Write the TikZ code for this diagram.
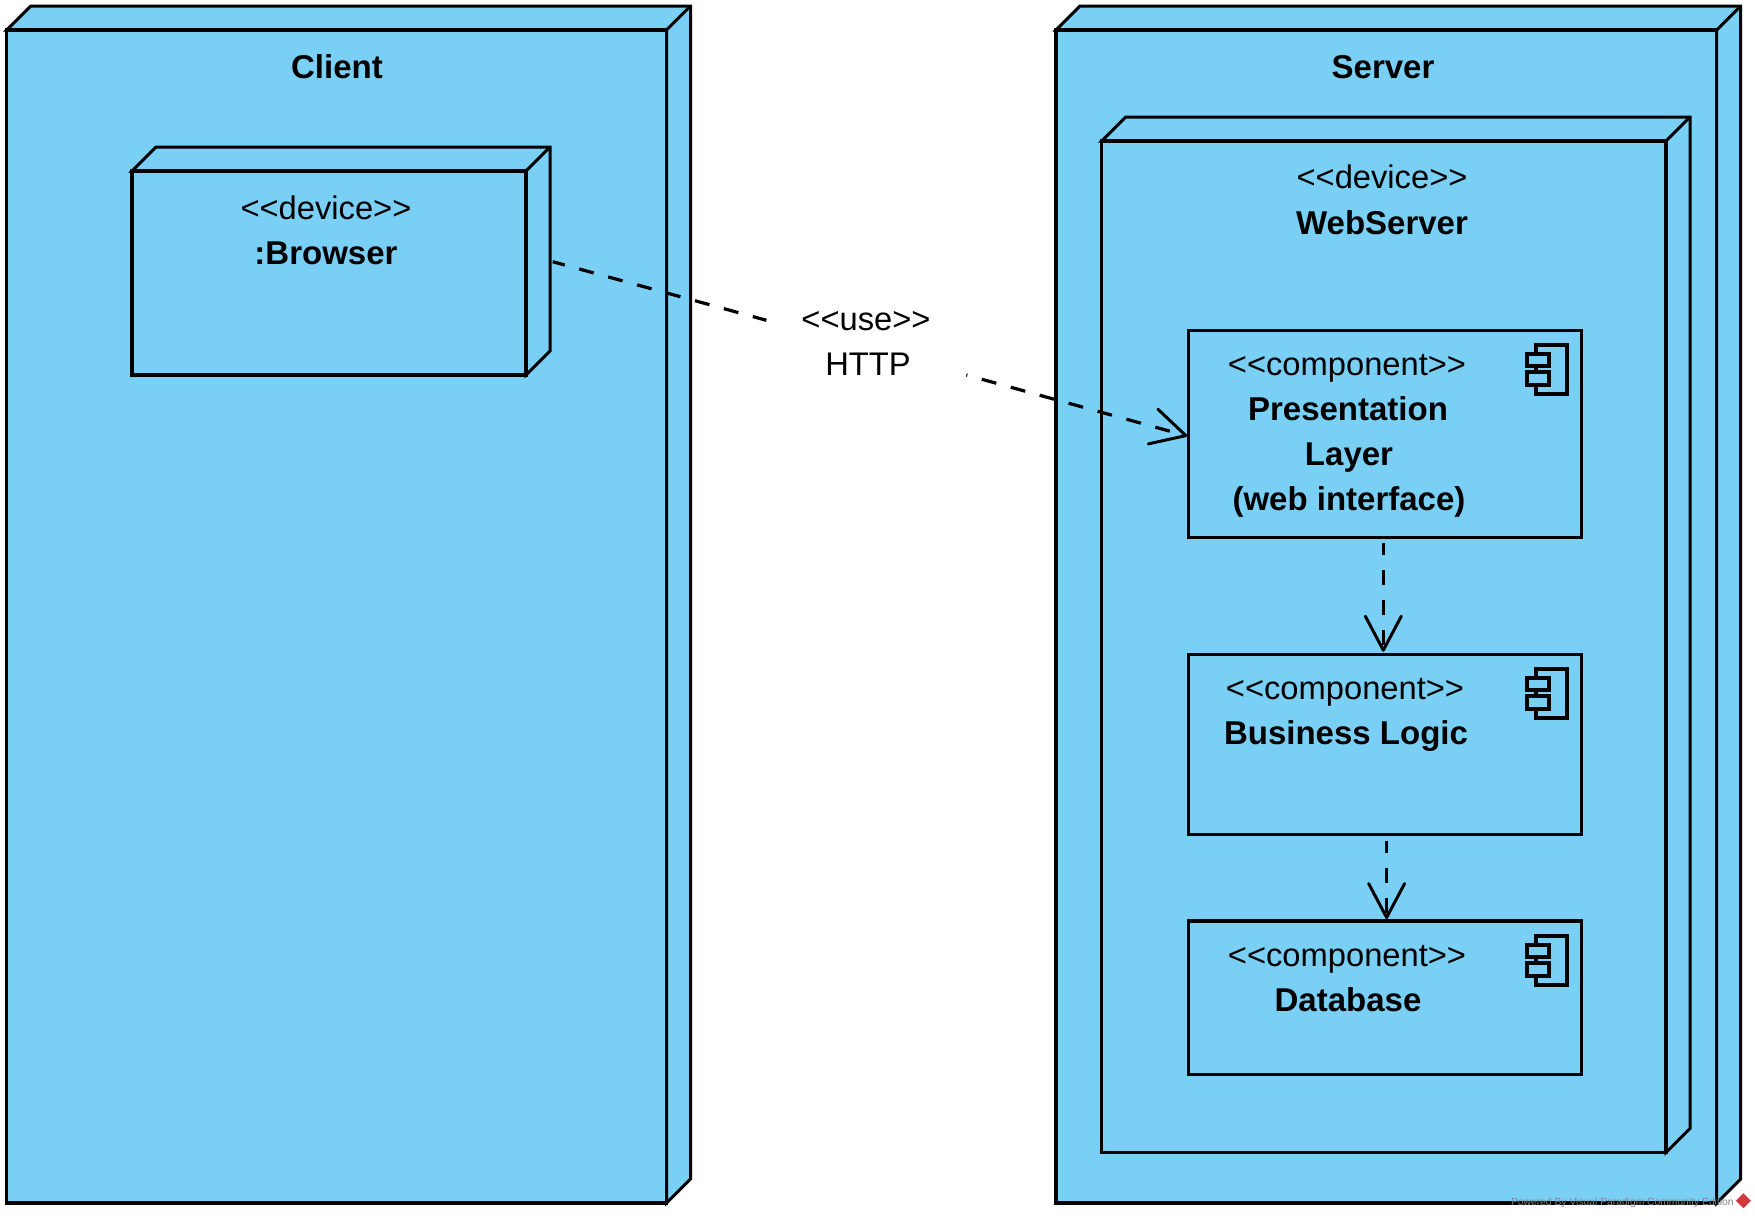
\documentclass[tikz,border=0pt]{standalone}
\usepackage{fontspec}
\setmainfont{Liberation Sans}
\usetikzlibrary{arrows.meta,calc,shapes.geometric}
\definecolor{nodeblue}{RGB}{122,207,245}
\definecolor{logored}{RGB}{208,58,58}
\tikzset{
  x=1pt,y=-1pt,
  every node/.style={inner sep=0pt,outer sep=0pt},
  boxline/.style={draw=black,line width=3.2pt,line join=miter,fill=nodeblue},
  depthline/.style={draw=black,line width=3pt,line join=miter,fill=nodeblue},
  depends/.style={draw=black,line width=3.2pt,dash pattern=on 15pt off 15pt,
     -{Straight Barb[length=34pt,width=36pt,line width=3pt,round]}},
  plainlink/.style={draw=black,line width=3.2pt,dash pattern=on 15pt off 15pt},
  stereo/.style={font=\fontsize{32.7}{45}\selectfont,anchor=base},
  title/.style={font=\fontsize{33}{45}\bfseries\selectfont,anchor=base},
  iconline/.style={draw=black,line width=3.2pt,fill=nodeblue},
}
\newcommand{\cube}[5]{% name, left, top, right, bottom (front face)
  \path[depthline] (#2,#3) -- (#2+24,#3-24) -- (#4+24,#3-24) -- (#4+24,#5-24) -- (#4,#5) -- (#4,#3) -- cycle;
  \draw[depthline,fill=none] (#4,#3) -- (#4+24,#3-24);
  \node[boxline,minimum width=#4pt-#2pt,minimum height=#5pt-#3pt,anchor=north west] (#1) at (#2,#3) {};
}
\newcommand{\compicon}[2]{% top-left of icon main rectangle
  \draw[iconline] (#1,#2) rectangle ++(31,49);
  \draw[iconline] (#1-9,#2+9) rectangle ++(22,12);
  \draw[iconline] (#1-9,#2+27) rectangle ++(22,13);
}
\newcommand{\stereotype}[1]{<{}<#1>{}>}
\begin{document}
\begin{tikzpicture}
\useasboundingbox (0,0) rectangle (1755,1218);
\cube{client}{6.7}{30}{666.5}{1203}
\cube{server}{1056}{30}{1716.7}{1203}
\cube{browser}{132}{171}{526}{375}
\cube{webserver}{1101.7}{141}{1666}{1152.5}
\node[boxline,minimum width=393.4pt,minimum height=206.6pt,anchor=north west] (pres) at (1188.3,330.7) {};
\node[boxline,minimum width=393.4pt,minimum height=180pt,anchor=north west] (logic) at (1188.3,654.3) {};
\node[boxline,minimum width=393.4pt,minimum height=153.5pt,anchor=north west] (db) at (1188.3,921) {};
\compicon{1536}{345}
\compicon{1536}{669}
\compicon{1536}{936}
\node[title] (clientt) at (337,78) {Client};
\node[title] (servert) at (1383,78) {Server};
\node[stereo] (browsers) at (326,219) {\stereotype{device}};
\node[title] (browsert) at (326,264) {:Browser};
\node[stereo] (webs) at (1382,188) {\stereotype{device}};
\node[title] (webt) at (1382,234) {WebServer};
\node[stereo] (press) at (1347,375) {\stereotype{component}};
\node[title] (prest1) at (1348,420) {Presentation};
\node[title] (prest2) at (1349,465) {Layer};
\node[title] (prest3) at (1349,510) {(web interface)};
\node[stereo] (logics) at (1345,699) {\stereotype{component}};
\node[title] (logict) at (1346,744) {Business Logic};
\node[stereo] (dbs) at (1347,966) {\stereotype{component}};
\node[title] (dbt) at (1348,1011) {Database};
\node[stereo] (uses) at (866,330) {\stereotype{use}};
\node[stereo] (uset) at (868,375) {HTTP};
\coordinate (useA) at (552.7,261.7);
\coordinate (gapA) at (766.4,320.3);
\coordinate (gapB) at (966.4,375);
\coordinate (useB) at (1187.3,436);
\coordinate (plA) at (1383.3,543.3);
\coordinate (plB) at (1383.3,651.7);
\coordinate (ldA) at (1386.6,840.5);
\coordinate (ldB) at (1386.6,919);
\draw[plainlink,dash phase=2.5pt] (useA) -- (gapA);
\draw[depends,dash phase=14pt] (gapB) -- (useB);
\draw[depends,dash phase=3pt] (plA) -- (plB);
\draw[depends,dash phase=3pt] (ldA) -- (ldB);
\node[font=\fontsize{10.3}{14}\selectfont,text=black!50,anchor=base west] (wm) at (1511,1205.5) {Powered By\hspace{3pt}Visual Paradigm Community Edition};
\node[diamond,fill=logored,minimum width=15pt,minimum height=15pt] (wmlogo) at (1743.3,1200.8) {};
\end{tikzpicture}
\end{document}
